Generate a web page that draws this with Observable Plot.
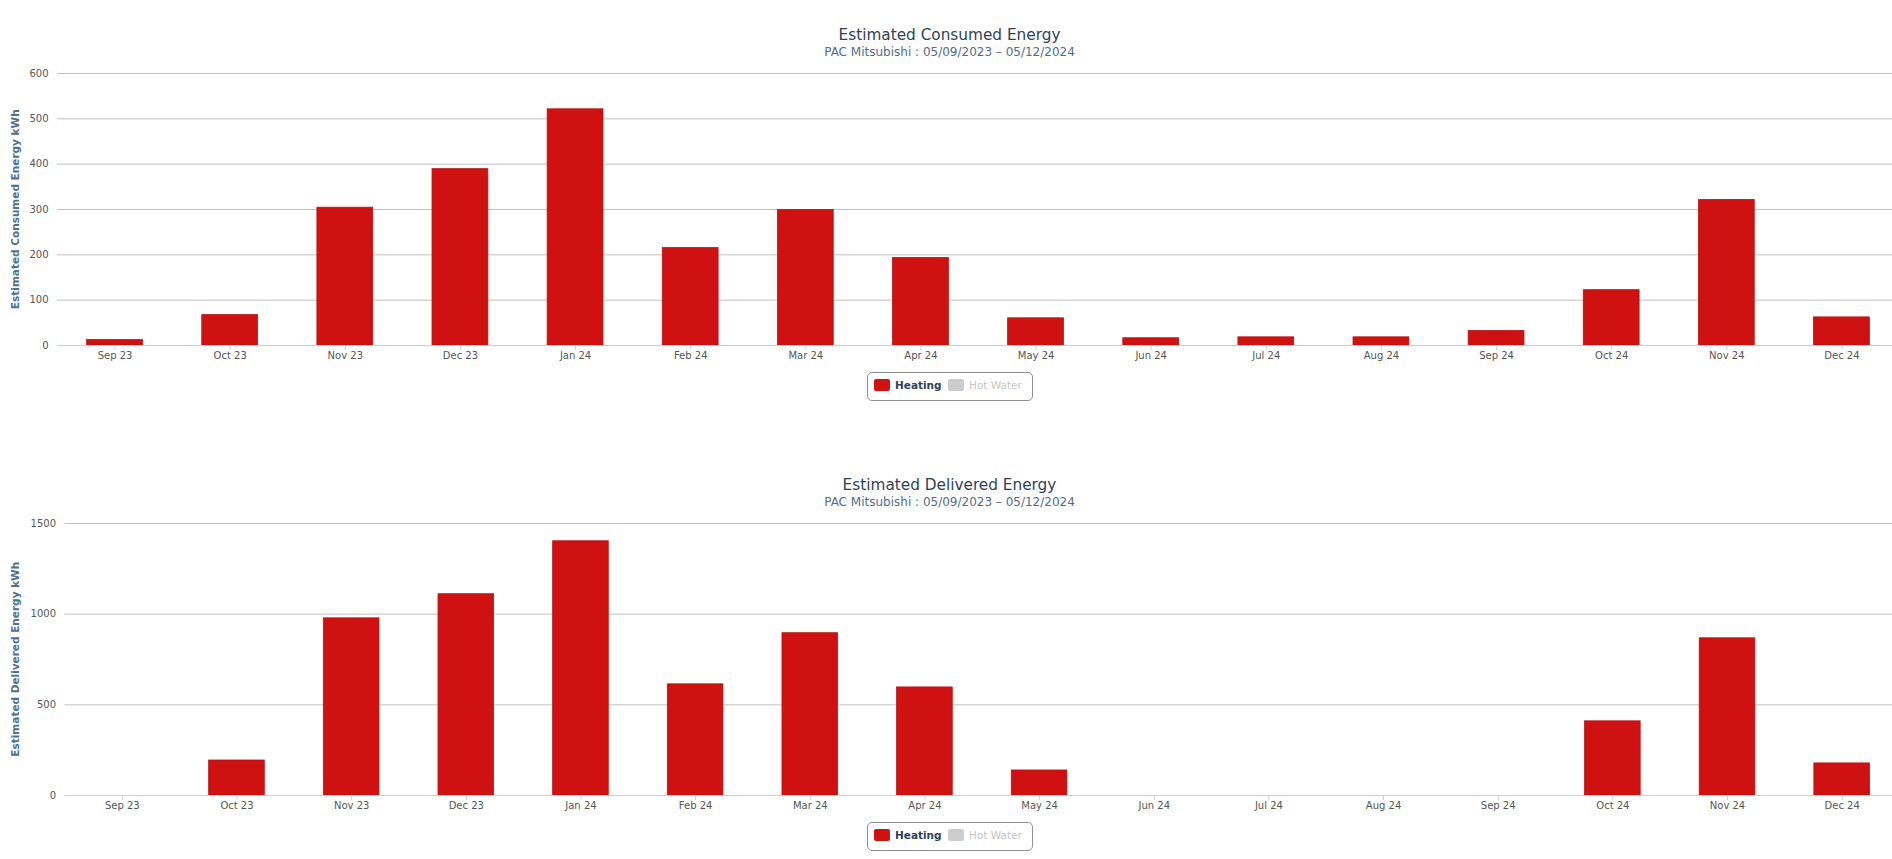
<!DOCTYPE html>
<html>
<head>
<meta charset="utf-8">
<script src="https://cdn.jsdelivr.net/npm/d3@7"></script>
<script src="https://cdn.jsdelivr.net/npm/@observablehq/plot@0.6"></script>
<style>
  html, body { margin: 0; padding: 0; background: #fff; overflow: hidden; width: 1892px; height: 859px; }
  .block { position: absolute; left: 0; width: 1899px; height: 450px; }
  .title { position: absolute; left: 0; width: 1899px; text-align: center; font-family: "DejaVu Sans"; white-space: nowrap; }
  .t1 { top: 27.8px; font-size: 15.3px; line-height: 15.3px; color: #2f4254; }
  .t2 { top: 45.5px; font-size: 12px; line-height: 12px; color: #4f6d85; }
  .ylab { position: absolute; left: -121.3px; top: 203.75px; width: 272px; height: 10.5px; line-height: 10.5px;
          font-family: "DejaVu Sans"; font-weight: bold; font-size: 10.5px; color: #4f6f8c; text-align: center;
          transform: rotate(-90deg); white-space: nowrap; }
  .svgwrap { position: absolute; left: 0; top: 60px; width: 1899px; }
  .svgwrap svg { max-width: none !important; }
  .legend { position: absolute; left: 867px; top: 372px; width: 166px; height: 29px; box-sizing: border-box;
            border: 1px solid #909090; border-radius: 5px; }
  .sw { position: absolute; top: 6px; width: 16px; height: 12px; border-radius: 2px; }
  .lt { position: absolute; top: 6.4px; font-family: "DejaVu Sans"; font-size: 10.5px; line-height: 12px; white-space: nowrap; }
</style>
</head>
<body>
<script>
// ---- data ----
const months = ["Sep 23", "Oct 23", "Nov 23", "Dec 23", "Jan 24", "Feb 24", "Mar 24", "Apr 24",
                "May 24", "Jun 24", "Jul 24", "Aug 24", "Sep 24", "Oct 24", "Nov 24", "Dec 24"];
const consumedHeating = [12, 67, 304, 389, 521, 215, 299, 193, 60, 16, 18, 18, 32, 122, 321, 62];
const deliveredHeating = [0, 193, 977, 1110, 1402, 613, 895, 596, 138, 0, 0, 0, 0, 409, 867, 177];
const consumedTicks = [0, 100, 200, 300, 400, 500, 600];
const deliveredTicks = [0, 500, 1000, 1500];
const seriesNames = ["Heating", "Hot Water"];
const seriesVisible = [true, false];
const titles = ["Estimated Consumed Energy", "Estimated Delivered Energy"];
const subtitle = "PAC Mitsubishi : 05/09/2023 – 05/12/2024";
const yTitles = ["Estimated Consumed Energy kWh", "Estimated Delivered Energy kWh"];

const barColor = "#cf1111";
const seriesColors = [barColor, "#cccccc"];

function makeChart(top, idx, values, ticks, marginLeft) {
  const block = document.createElement("div");
  block.className = "block";
  block.style.top = top + "px";
  document.body.appendChild(block);

  const t1 = document.createElement("div");
  t1.className = "title t1"; t1.textContent = titles[idx];
  block.appendChild(t1);
  const t2 = document.createElement("div");
  t2.className = "title t2"; t2.textContent = subtitle;
  block.appendChild(t2);

  const yl = document.createElement("div");
  yl.className = "ylab"; yl.textContent = yTitles[idx];
  block.appendChild(yl);

  const data = months.map((m, i) => ({month: m, value: values[i]})).filter(d => d.value > 0);

  const plot = Plot.plot({
    width: 1899,
    height: 310,
    marginTop: 13,
    marginBottom: 25,
    marginLeft: marginLeft,
    marginRight: 0,
    style: {fontFamily: "DejaVu Sans", fontSize: "10px", background: "transparent", overflow: "visible"},
    x: {domain: months, paddingInner: 0.515, paddingOuter: 0.2575, round: false, label: null},
    y: {domain: [0, ticks[ticks.length - 1]], label: null},
    marks: [
      Plot.ruleY(ticks.filter(t => t > 0), {stroke: "#c0c0c0", strokeWidth: 1}),
      Plot.barY(data, {x: "month", y: "value", fill: barColor, stroke: "#b51414", strokeWidth: 0.8}),
      Plot.ruleY([0], {stroke: "#c0d0e0", strokeWidth: 1}),
      Plot.axisX({tickSize: 5, tickPadding: 1, stroke: "#c0d0e0", fill: "#555", label: null}),
      Plot.axisY({ticks: ticks, tickSize: 0, tickPadding: 9, fill: "#555", label: null, tickFormat: d => String(d)})
    ]
  });
  const wrap = document.createElement("div");
  wrap.className = "svgwrap";
  wrap.appendChild(plot);
  block.appendChild(wrap);

  const lg = document.createElement("div");
  lg.className = "legend";
  const swX = [6, 80];
  const txX = [27, 101];
  seriesNames.forEach((name, i) => {
    const sw = document.createElement("div");
    sw.className = "sw";
    sw.style.left = swX[i] + "px";
    sw.style.background = seriesVisible[i] ? seriesColors[i] : "#cccccc";
    lg.appendChild(sw);
    const tx = document.createElement("div");
    tx.className = "lt";
    tx.style.left = txX[i] + "px";
    tx.style.fontWeight = seriesVisible[i] ? "bold" : "normal";
    tx.style.color = seriesVisible[i] ? "#2f4254" : "#c4c4c4";
    tx.textContent = name;
    lg.appendChild(tx);
  });
  block.appendChild(lg);
}

makeChart(0, 0, consumedHeating, consumedTicks, 57);
makeChart(450, 1, deliveredHeating, deliveredTicks, 64.5);
</script>
</body>
</html>
